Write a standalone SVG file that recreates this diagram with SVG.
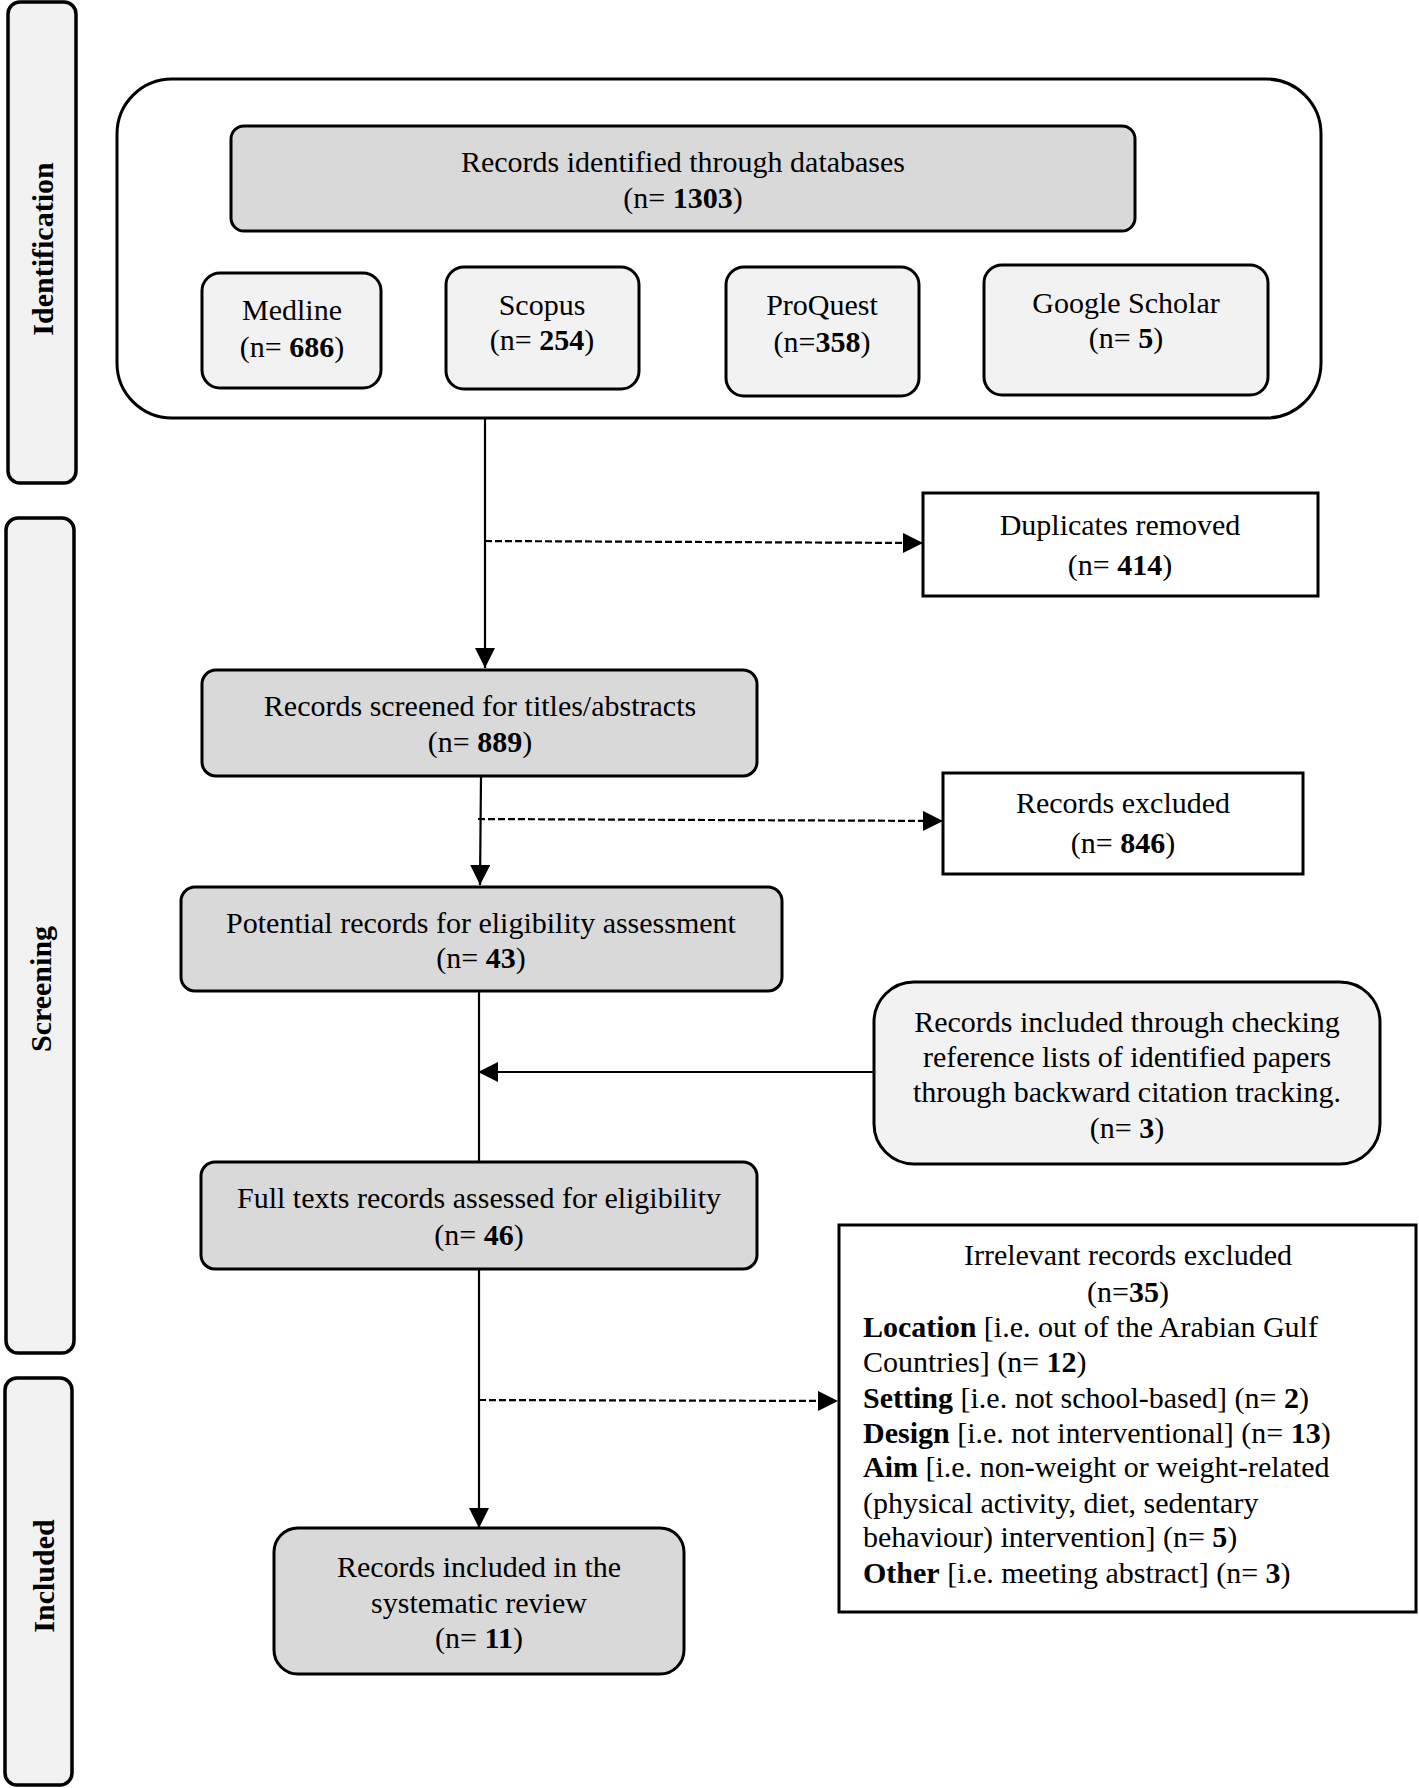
<svg xmlns="http://www.w3.org/2000/svg" width="1419" height="1788" viewBox="0 0 1419 1788">
<style>
text{font-family:"Liberation Serif","Times New Roman",serif;font-size:30px;fill:#000}
.c{text-anchor:middle}
.b{font-weight:bold}
.bar{fill:#f2f2f2;stroke:#000;stroke-width:3.5}
.dark{fill:#d9d9d9;stroke:#000;stroke-width:3}
.light{fill:#f2f2f2;stroke:#000;stroke-width:3}
.plain{fill:#fff;stroke:#000;stroke-width:3}
.ln{fill:none;stroke:#000;stroke-width:2.2}
.dash{fill:none;stroke:#000;stroke-width:2.2;stroke-dasharray:7 3}
</style>
<defs>
<marker id="ah" markerWidth="10" markerHeight="10" viewBox="0 0 10 10" refX="10" refY="5" orient="auto" markerUnits="userSpaceOnUse" style="overflow:visible">
<path d="M0,0 L10,5 L0,10 Z" fill="#000"/>
</marker>
<marker id="arr" viewBox="0 0 20 20" refX="20" refY="10" markerWidth="20" markerHeight="20" orient="auto" markerUnits="userSpaceOnUse">
<path d="M0,0 L20,10 L0,20 Z" fill="#000"/>
</marker>
</defs>
<rect width="1419" height="1788" fill="#fff"/>

<g id="bar-identification">
<rect class="bar" x="8" y="2" width="68" height="481" rx="12"/>
<text class="c b" transform="translate(53,249) rotate(-90)">Identification</text>
</g>
<g id="bar-screening">
<rect class="bar" x="6" y="518" width="68" height="835" rx="12"/>
<text class="c b" transform="translate(51,989) rotate(-90)">Screening</text>
</g>
<g id="bar-included">
<rect class="bar" x="5" y="1378" width="67" height="407" rx="12"/>
<text class="c b" transform="translate(54,1576) rotate(-90)">Included</text>
</g>

<g id="identification-group">
<rect class="plain" x="117" y="79" width="1204" height="339" rx="55"/>
</g>
<g id="databases">
<rect class="dark" x="231" y="126" width="904" height="105" rx="13"/>
<text class="c" x="683" y="172">Records identified through databases</text>
<text class="c" x="683" y="208">(n= <tspan class="b">1303</tspan>)</text>
</g>
<g id="medline">
<rect class="light" x="202" y="273" width="179" height="115" rx="18"/>
<text class="c" x="292" y="320">Medline</text>
<text class="c" x="292" y="357">(n= <tspan class="b">686</tspan>)</text>
</g>
<g id="scopus">
<rect class="light" x="446" y="267" width="193" height="122" rx="18"/>
<text class="c" x="542" y="315">Scopus</text>
<text class="c" x="542" y="350">(n= <tspan class="b">254</tspan>)</text>
</g>
<g id="proquest">
<rect class="light" x="726" y="267" width="193" height="129" rx="18"/>
<text class="c" x="822" y="315">ProQuest</text>
<text class="c" x="822" y="352">(n=<tspan class="b">358</tspan>)</text>
</g>
<g id="google-scholar">
<rect class="light" x="984" y="265" width="284" height="130" rx="18"/>
<text class="c" x="1126" y="313">Google Scholar</text>
<text class="c" x="1126" y="348">(n= <tspan class="b">5</tspan>)</text>
</g>

<g id="duplicates">
<rect class="plain" x="923" y="493" width="395" height="103"/>
<text class="c" x="1120" y="535">Duplicates removed</text>
<text class="c" x="1120" y="575">(n= <tspan class="b">414</tspan>)</text>
</g>
<g id="screened">
<rect class="dark" x="202" y="670" width="555" height="106" rx="14"/>
<text class="c" x="480" y="716">Records screened for titles/abstracts</text>
<text class="c" x="480" y="752">(n= <tspan class="b">889</tspan>)</text>
</g>
<g id="excluded">
<rect class="plain" x="943" y="773" width="360" height="101"/>
<text class="c" x="1123" y="813">Records excluded</text>
<text class="c" x="1123" y="853">(n= <tspan class="b">846</tspan>)</text>
</g>
<g id="potential">
<rect class="dark" x="181" y="887" width="601" height="104" rx="14"/>
<text class="c" x="481" y="933">Potential records for eligibility assessment</text>
<text class="c" x="481" y="968">(n= <tspan class="b">43</tspan>)</text>
</g>
<g id="backward">
<rect class="light" x="874" y="982" width="506" height="182" rx="40"/>
<text class="c" x="1127" y="1032">Records included through checking</text>
<text class="c" x="1127" y="1067">reference lists of identified papers</text>
<text class="c" x="1127" y="1102">through backward citation tracking.</text>
<text class="c" x="1127" y="1138">(n= <tspan class="b">3</tspan>)</text>
</g>
<g id="fulltext">
<rect class="dark" x="201" y="1162" width="556" height="107" rx="14"/>
<text class="c" x="479" y="1208">Full texts records assessed for eligibility</text>
<text class="c" x="479" y="1245">(n= <tspan class="b">46</tspan>)</text>
</g>
<g id="irrelevant">
<rect class="plain" x="839" y="1225" width="577" height="387"/>
<text class="c" x="1128" y="1265">Irrelevant records excluded</text>
<text class="c" x="1128" y="1302">(n=<tspan class="b">35</tspan>)</text>
<text x="863" y="1337"><tspan class="b">Location</tspan> [i.e. out of the Arabian Gulf</text>
<text x="863" y="1372">Countries] (n= <tspan class="b">12</tspan>)</text>
<text x="863" y="1408"><tspan class="b">Setting</tspan> [i.e. not school-based] (n= <tspan class="b">2</tspan>)</text>
<text x="863" y="1443"><tspan class="b">Design</tspan> [i.e. not interventional] (n= <tspan class="b">13</tspan>)</text>
<text x="863" y="1477"><tspan class="b">Aim</tspan> [i.e. non-weight or weight-related</text>
<text x="863" y="1513">(physical activity, diet, sedentary</text>
<text x="863" y="1547">behaviour) intervention] (n= <tspan class="b">5</tspan>)</text>
<text x="863" y="1583"><tspan class="b">Other</tspan> [i.e. meeting abstract] (n= <tspan class="b">3</tspan>)</text>
</g>
<g id="included-review">
<rect class="dark" x="274" y="1528" width="410" height="146" rx="24"/>
<text class="c" x="479" y="1577">Records included in the</text>
<text class="c" x="479" y="1613">systematic review</text>
<text class="c" x="479" y="1648">(n= <tspan class="b">11</tspan>)</text>
</g>

<g id="connectors">
<path class="ln" d="M485,418 L485,668" marker-end="url(#arr)"/>
<path class="dash" d="M485,541 L923,543" marker-end="url(#arr)"/>
<path class="ln" d="M481,776 L480,885" marker-end="url(#arr)"/>
<path class="dash" d="M478,819 L943,821" marker-end="url(#arr)"/>
<path class="ln" d="M479,991 L479,1162"/>
<path class="ln" d="M874,1072 L478,1072" marker-end="url(#arr)"/>
<path class="ln" d="M479,1269 L479,1528" marker-end="url(#arr)"/>
<path class="dash" d="M479,1400 L838,1401" marker-end="url(#arr)"/>
</g>
</svg>
